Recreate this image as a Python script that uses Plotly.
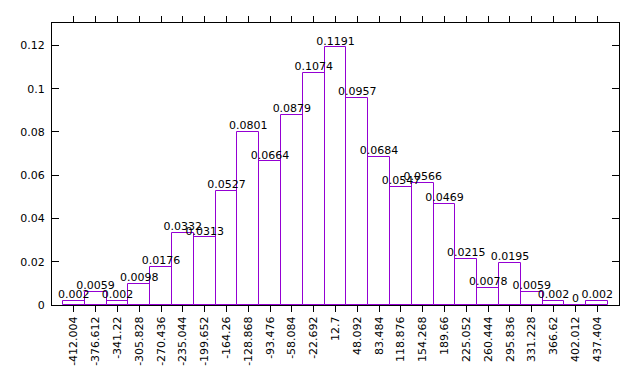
import plotly.graph_objects as go

bin_labels = ["-412.004", "-376.612", "-341.22", "-305.828", "-270.436", "-235.044",
              "-199.652", "-164.26", "-128.868", "-93.476", "-58.084", "-22.692",
              "12.7", "48.092", "83.484", "118.876", "154.268", "189.66", "225.052",
              "260.444", "295.836", "331.228", "366.62", "402.012", "437.404"]
bin_centers = [float(s) for s in bin_labels]
frequencies = [0.002, 0.0059, 0.002, 0.0098, 0.0176, 0.0332, 0.0313, 0.0527, 0.0801,
               0.0664, 0.0879, 0.1074, 0.1191, 0.0957, 0.0684, 0.0547, 0.0566, 0.0469,
               0.0215, 0.0078, 0.0195, 0.0059, 0.002, 0, 0.002]
y_ticks = [0, 0.02, 0.04, 0.06, 0.08, 0.1, 0.12]
y_tick_labels = ["0", "0.02", "0.04", "0.06", "0.08", "0.1", "0.12"]

bin_width = bin_centers[1] - bin_centers[0]
FONT = "DejaVu Sans"

fig = go.Figure()
fig.add_trace(go.Bar(
    x=bin_centers, y=frequencies, width=bin_width,
    marker=dict(color="rgba(255,255,255,0)", line=dict(color="#9400D3", width=1)),
    showlegend=False, hoverinfo="skip",
))
fig.add_trace(go.Scatter(
    x=bin_centers, y=frequencies, mode="text",
    text=[f"{v:g}" for v in frequencies], textposition="top center",
    textfont=dict(family=FONT, size=11, color="black"),
    showlegend=False, cliponaxis=False, hoverinfo="skip",
))

fig.update_layout(
    width=632, height=376,
    margin=dict(l=44, r=21, t=8, b=79),
    paper_bgcolor="white", plot_bgcolor="white",
    font=dict(family=FONT, size=11, color="black"),
    bargap=0,
)
fig.update_xaxes(
    range=[bin_centers[0] - bin_width, bin_centers[-1] + bin_width],
    tickmode="array", tickvals=bin_centers, ticktext=bin_labels,
    tickangle=-90, ticks="outside", ticklen=6, tickcolor="black",
    showline=True, linecolor="black", linewidth=1, mirror="ticks",
    showgrid=False, zeroline=False,
    tickfont=dict(family=FONT, size=11, color="black"),
)
fig.update_yaxes(
    range=[0, 0.1304],
    tickmode="array", tickvals=y_ticks, ticktext=y_tick_labels,
    ticks="inside", ticklen=7, tickcolor="black",
    showline=True, linecolor="black", linewidth=1, mirror="ticks",
    showgrid=False, zeroline=False, ticklabelstandoff=4,
    tickfont=dict(family=FONT, size=11, color="black"),
)

fig.write_html("out.html")
